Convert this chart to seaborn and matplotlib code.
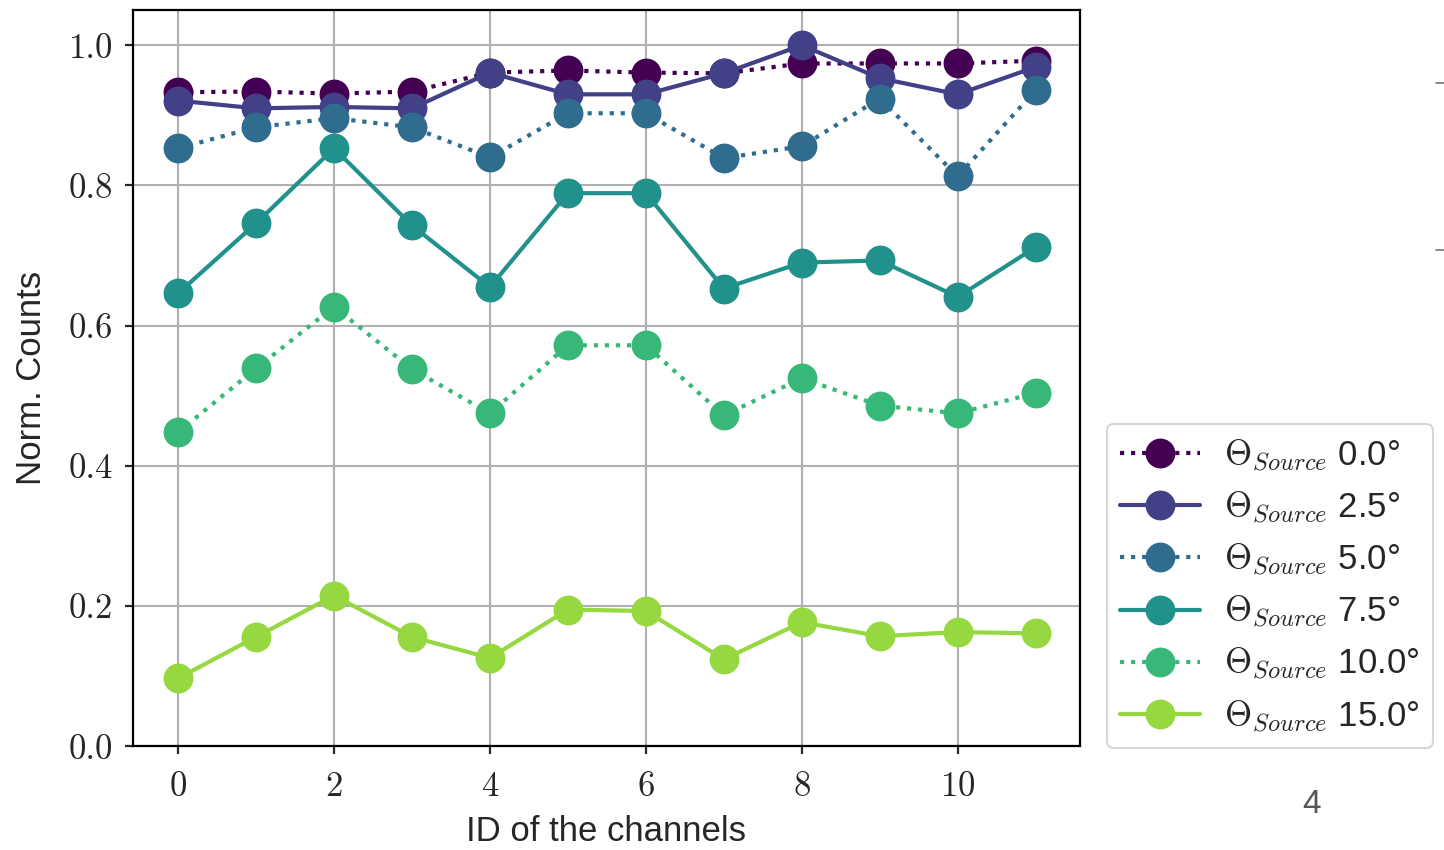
import numpy as np
import pandas as pd
import matplotlib
matplotlib.use("Agg")
import matplotlib.pyplot as plt
from matplotlib.lines import Line2D
import seaborn as sns

# valores
channels = list(range(12))
angles = ["0.0", "2.5", "5.0", "7.5", "10.0", "15.0"]
counts_00 = [0.933, 0.934, 0.931, 0.934, 0.961, 0.964, 0.961, 0.960, 0.974, 0.974, 0.974, 0.978]
counts_25 = [0.921, 0.910, 0.912, 0.910, 0.961, 0.930, 0.930, 0.960, 1.000, 0.953, 0.930, 0.969]
counts_50 = [0.853, 0.883, 0.896, 0.883, 0.840, 0.903, 0.903, 0.839, 0.856, 0.924, 0.813, 0.936]
counts_75 = [0.646, 0.746, 0.853, 0.743, 0.655, 0.789, 0.789, 0.653, 0.690, 0.693, 0.641, 0.712]
counts_100 = [0.448, 0.539, 0.627, 0.538, 0.475, 0.572, 0.572, 0.472, 0.525, 0.486, 0.475, 0.504]
counts_150 = [0.097, 0.156, 0.215, 0.156, 0.126, 0.195, 0.193, 0.124, 0.177, 0.157, 0.163, 0.161]
series = [counts_00, counts_25, counts_50, counts_75, counts_100, counts_150]

sns.set_style("ticks")
plt.rcParams['font.family'] = ['Liberation Sans', 'DejaVu Sans']
plt.rcParams['mathtext.fontset'] = 'cm'
plt.rcParams['axes.formatter.use_mathtext'] = True

colors = [plt.cm.viridis(v) for v in [0.0, 0.19, 0.35, 0.5, 0.67, 0.84]]
styles = [':', '-', ':', '-', ':', '-']

fig = plt.figure(figsize=(14.44, 8.5), dpi=100)
ax = fig.add_axes([0.092, 0.122, 0.656, 0.866])

for ang, vals, c, ls in zip(angles, series, colors, styles):
    sns.lineplot(x=channels, y=vals, ax=ax, color=c, linestyle=ls, linewidth=3,
                 marker='o', markersize=21.5, markeredgewidth=0,
                 label=r"$\Theta_{Source}$ " + ang + "°")

ax.set_xlim(-0.58, 11.57)
ax.set_ylim(0, 1.05)
ax.set_xticks([0, 2, 4, 6, 8, 10])
ax.set_yticks([0.0, 0.2, 0.4, 0.6, 0.8, 1.0])
ax.set_yticklabels(["0.0", "0.2", "0.4", "0.6", "0.8", "1.0"])
ax.grid(True, color='#b0b0b0', linewidth=1.5)
ax.set_axisbelow(True)
for s in ax.spines.values():
    s.set_color('black')
    s.set_linewidth(1.6)
ax.tick_params(length=6, width=1.6, labelsize=25)
ax.tick_params(axis='x', pad=12)
ax.tick_params(axis='y', pad=8)
for lab in ax.get_xticklabels() + ax.get_yticklabels():
    lab.set_fontfamily('cmr10')

ax.set_xlabel('ID of the channels', fontsize=25, labelpad=9)
ax.set_ylabel('Norm. Counts', fontsize=25, labelpad=15)

leg = ax.legend(loc='lower left', bbox_to_anchor=(1.0285, -0.002), borderaxespad=0,
                fontsize=25, handlelength=2.3, handletextpad=0.69, labelspacing=0.46,
                borderpad=0.38, frameon=True, fancybox=True)
leg.get_frame().set_edgecolor('#cccccc')
leg.get_frame().set_linewidth(1.5)

# restos de la pagina
fig.text(0.908, 0.035, '4', fontsize=24, color='#555555', ha='center', va='bottom')
for yy in [1 - 83 / 850, 1 - 250 / 850]:
    fig.add_artist(Line2D([1436 / 1444, 1444 / 1444], [yy, yy], color='#777777', linewidth=1.2))

fig.savefig('out.png', dpi=100)
